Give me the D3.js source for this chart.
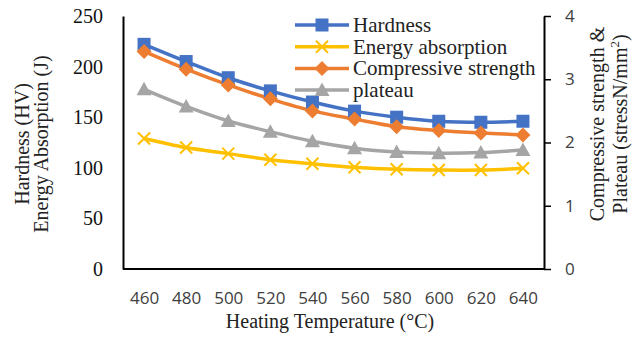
<!DOCTYPE html>
<html>
<head>
<meta charset="utf-8">
<script src="https://cdn.jsdelivr.net/npm/d3@7"></script>
<style>
  html, body { margin: 0; padding: 0; background: #fff; }
  svg { display: block; }
</style>
</head>
<body>
<svg id="chart" width="640" height="341"></svg>
<script>
// ---- data ----
const temps = [460, 480, 500, 520, 540, 560, 580, 600, 620, 640];
const hardness = [222, 205, 189, 176, 165, 156, 150, 146, 145, 146];
const energy = [129, 120, 114, 108, 104, 100.5, 98.5, 97.8, 97.8, 99.5];
const compressive = [3.44, 3.16, 2.91, 2.69, 2.50, 2.37, 2.25, 2.19, 2.15, 2.12];
const plateau = [2.84, 2.57, 2.34, 2.17, 2.02, 1.91, 1.85, 1.83, 1.84, 1.88];
const leftTicks = [0, 50, 100, 150, 200, 250];
const rightTicks = [0, 1, 2, 3, 4];
const seriesNames = ["Hardness", "Energy absorption", "Compressive strength", "plateau"];

// ---- layout ----
const L = 123, R = 544, T = 16, B = 269;
const svg = d3.select("#chart");
const serif = "'Liberation Serif', 'Times New Roman', serif";
const sans = "'Open Sans', 'Liberation Sans', sans-serif";

const x = d3.scalePoint().domain(temps).range([L, R]).padding(0.5);
const yL = d3.scaleLinear().domain([0, 250]).range([B, T]);
const yR = d3.scaleLinear().domain([0, 4]).range([B, T]);

const series = [
  { name: seriesNames[0], values: hardness, scale: yL, color: "#4472C4", marker: "square" },
  { name: seriesNames[1], values: energy, scale: yL, color: "#FFC000", marker: "x" },
  { name: seriesNames[2], values: compressive, scale: yR, color: "#ED7D31", marker: "diamond" },
  { name: seriesNames[3], values: plateau, scale: yR, color: "#A5A5A5", marker: "triangle" }
];

// ---- axes ----
const gL = svg.append("g").attr("transform", `translate(${L},0)`)
  .call(d3.axisLeft(yL).tickValues(leftTicks).tickFormat(d3.format("d")).tickSize(0).tickSizeOuter(0).tickPadding(20));
gL.select(".domain").attr("stroke", "#000").attr("stroke-width", 2);
gL.selectAll("text").attr("font-family", serif).attr("font-size", 20).attr("fill", "#111");

const gR = svg.append("g").attr("transform", `translate(${R},0)`)
  .call(d3.axisRight(yR).tickValues(rightTicks).tickFormat(d3.format("d")).tickSize(7).tickSizeOuter(0).tickPadding(14));
gR.select(".domain").attr("stroke", "#000").attr("stroke-width", 2);
gR.selectAll(".tick line").attr("stroke", "#000").attr("stroke-width", 1.5);
gR.selectAll("text").attr("font-family", sans).attr("font-size", 17).attr("fill", "#404040");

const gB = svg.append("g").attr("transform", `translate(0,${B})`)
  .call(d3.axisBottom(x).tickSize(0).tickSizeOuter(0).tickPadding(23));
gB.select(".domain").attr("stroke", "#000").attr("stroke-width", 2)
  .attr("d", `M${L},0H${R + 1}`);
gB.selectAll("text").attr("font-family", sans).attr("font-size", 17).attr("fill", "#404040");

// ---- axis titles ----
svg.append("text").attr("x", 330).attr("y", 328).attr("text-anchor", "middle")
  .attr("font-family", serif).attr("font-size", 20).attr("fill", "#222")
  .text("Heating Temperature (°C)");

const lt = svg.append("g").attr("transform", "translate(0,144) rotate(-90)");
lt.append("text").attr("x", 0).attr("y", 29).attr("text-anchor", "middle")
  .attr("font-family", serif).attr("font-size", 20).attr("fill", "#222").text("Hardness (HV)");
lt.append("text").attr("x", 0).attr("y", 48).attr("text-anchor", "middle")
  .attr("font-family", serif).attr("font-size", 20).attr("fill", "#222").text("Energy Absorption (J)");

const rt = svg.append("g").attr("transform", "translate(0,124) rotate(-90)");
rt.append("text").attr("x", 0).attr("y", 604).attr("text-anchor", "middle")
  .attr("font-family", serif).attr("font-size", 20).attr("fill", "#222").text("Compressive strength &");
const rt2 = rt.append("text").attr("x", 0).attr("y", 627).attr("text-anchor", "middle")
  .attr("font-family", serif).attr("font-size", 20).attr("fill", "#222");
rt2.append("tspan").text("Plateau (stressN/mm");
rt2.append("tspan").attr("font-size", 13).attr("dy", -8).text("2");
rt2.append("tspan").attr("dy", 8).text(")");

// ---- markers ----
function drawMarker(g, type, color, cx, cy) {
  if (type === "square") {
    g.append("rect").attr("x", cx - 6.5).attr("y", cy - 6.5).attr("width", 13).attr("height", 13)
      .attr("fill", color);
  } else if (type === "diamond") {
    g.append("path").attr("d", `M${cx},${cy - 7.5}L${cx + 7.5},${cy}L${cx},${cy + 7.5}L${cx - 7.5},${cy}Z`)
      .attr("fill", color);
  } else if (type === "triangle") {
    g.append("path").attr("d", `M${cx},${cy - 7.5}L${cx + 7.5},${cy + 6}L${cx - 7.5},${cy + 6}Z`)
      .attr("fill", color);
  } else if (type === "x") {
    g.append("path").attr("d", `M${cx - 6},${cy - 6}L${cx + 6},${cy + 6}M${cx + 6},${cy - 6}L${cx - 6},${cy + 6}`)
      .attr("stroke", color).attr("stroke-width", 2).attr("fill", "none");
  }
}

// ---- lines ----
const plot = svg.append("g");
series.forEach(s => {
  const line = d3.line()
    .x((d, i) => x(temps[i]))
    .y(d => s.scale(d))
    .curve(d3.curveCatmullRom.alpha(0.5));
  plot.append("path").datum(s.values).attr("d", line)
    .attr("fill", "none").attr("stroke", s.color).attr("stroke-width", 3.5)
    .attr("stroke-linejoin", "round");
});
series.forEach(s => {
  const g = plot.append("g");
  s.values.forEach((v, i) => drawMarker(g, s.marker, s.color, x(temps[i]), s.scale(v)));
});

// ---- legend ----
const leg = svg.append("g");
series.forEach((s, i) => {
  const y = 25 + i * 21.7;
  leg.append("line").attr("x1", 295).attr("x2", 349).attr("y1", y).attr("y2", y)
    .attr("stroke", s.color).attr("stroke-width", 3.5);
  drawMarker(leg, s.marker, s.color, 322, y);
  leg.append("text").attr("x", 353).attr("y", y).attr("dy", "0.33em")
    .attr("font-family", serif).attr("font-size", 21).attr("fill", "#222").text(s.name);
});
</script>
</body>
</html>
